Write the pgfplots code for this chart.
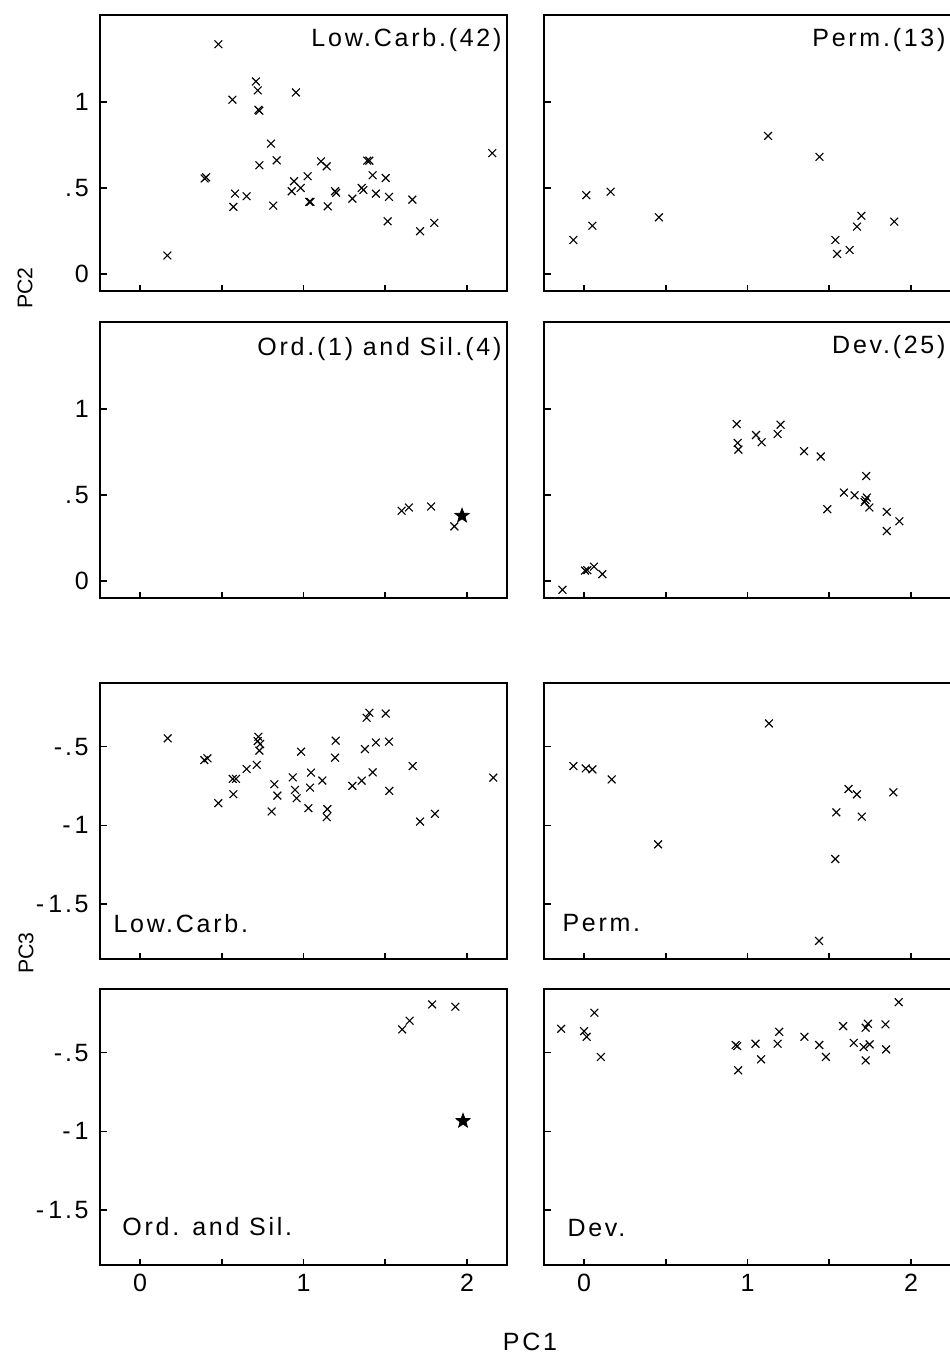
\documentclass[border=0pt]{standalone}
\usepackage{fontspec}
\setmainfont{Liberation Sans}[LetterSpace=11]
\newfontfamily\plainsans{Liberation Sans}
\usepackage{pgfplots}
\pgfplotsset{compat=1.18}

\pgfdeclareplotmark{fstar}{%
 \pgfpathmoveto{\pgfpointpolar{90}{\pgfplotmarksize}}%
 \pgfpathlineto{\pgfpointpolar{126}{0.42\pgfplotmarksize}}%
 \pgfpathlineto{\pgfpointpolar{162}{\pgfplotmarksize}}%
 \pgfpathlineto{\pgfpointpolar{198}{0.42\pgfplotmarksize}}%
 \pgfpathlineto{\pgfpointpolar{234}{\pgfplotmarksize}}%
 \pgfpathlineto{\pgfpointpolar{270}{0.42\pgfplotmarksize}}%
 \pgfpathlineto{\pgfpointpolar{306}{\pgfplotmarksize}}%
 \pgfpathlineto{\pgfpointpolar{342}{0.42\pgfplotmarksize}}%
 \pgfpathlineto{\pgfpointpolar{18}{\pgfplotmarksize}}%
 \pgfpathlineto{\pgfpointpolar{54}{0.42\pgfplotmarksize}}%
 \pgfpathclose
 \pgfusepathqfillstroke}

\pgfplotsset{
  panel/.style={
    scale only axis, width=162.8pt, height=110.4pt,
    anchor=north west,
    xmin=-0.245, xmax=2.245,
    axis line style={line width=0.7pt},
    tick style={black, line width=0.6pt},
    major tick length=2.6pt,
    tick align=inside, tick pos=left,
    xtick={0,0.5,1,1.5,2}, xticklabels={},
    yticklabel style={xshift=-1pt},
  },
  pctwo/.style={ymin=-0.1, ymax=1.507, ytick={0,0.5,1}},
  pcthree/.style={ymin=-1.85, ymax=-0.095, ytick={-1.5,-1,-0.5}},
  leftlab2/.style={yticklabels={0,.5,1}},
  leftlab3/.style={yticklabels={-\,1.5,-\,1,-.5}},
  nolab/.style={yticklabels={}},
  pts/.style={only marks, mark=x, mark size=2.2pt, black, line width=0.45pt},
  stars/.style={only marks, mark=fstar, mark size=3pt, black, line width=0.3pt},
}

\pgfplotstableread{
x y
0.479 1.337
0.709 1.120
0.720 1.068
0.565 1.014
0.954 1.056
0.724 0.955
0.730 0.950
0.801 0.758
0.730 0.632
0.836 0.661
0.404 0.562
0.395 0.555
0.581 0.467
0.652 0.452
0.571 0.390
0.815 0.397
0.167 0.107
0.942 0.539
0.928 0.481
0.983 0.500
1.025 0.568
1.036 0.419
1.043 0.419
1.107 0.655
1.142 0.626
1.148 0.393
1.193 0.481
1.200 0.472
1.299 0.438
1.356 0.500
1.366 0.488
1.390 0.659
1.403 0.659
1.423 0.574
1.443 0.467
1.503 0.558
1.523 0.448
1.515 0.306
1.666 0.432
1.713 0.248
1.800 0.297
2.155 0.703
}\lcpctwo

\pgfplotstableread{
x y
0.169 -0.447
0.393 -0.585
0.412 -0.574
0.479 -0.859
0.567 -0.705
0.587 -0.705
0.571 -0.802
0.652 -0.642
0.714 -0.616
0.724 -0.437
0.720 -0.464
0.734 -0.483
0.730 -0.525
0.805 -0.912
0.822 -0.739
0.840 -0.811
0.934 -0.695
0.948 -0.775
0.958 -0.828
0.985 -0.532
1.030 -0.891
1.040 -0.760
1.046 -0.665
1.115 -0.715
1.146 -0.897
1.142 -0.948
1.197 -0.462
1.193 -0.570
1.299 -0.749
1.356 -0.716
1.376 -0.515
1.386 -0.316
1.403 -0.284
1.423 -0.663
1.443 -0.473
1.503 -0.289
1.523 -0.468
1.525 -0.781
1.668 -0.623
1.713 -0.976
1.804 -0.927
2.161 -0.697
}\lcpcthree

\pgfplotstableread{
x y
-0.065 0.197
0.014 0.458
0.051 0.280
0.163 0.478
0.458 0.329
1.126 0.803
1.440 0.681
1.538 0.197
1.548 0.116
1.625 0.139
1.670 0.275
1.697 0.338
1.898 0.304
}\pmpctwo

\pgfplotstableread{
x y
-0.065 -0.623
0.010 -0.638
0.051 -0.644
0.169 -0.708
0.453 -1.121
1.131 -0.352
1.438 -1.735
1.543 -0.917
1.537 -1.214
1.618 -0.769
1.669 -0.803
1.699 -0.945
1.892 -0.790
}\pmpcthree

\pgfplotstableread{
x y
1.600 0.408
1.645 0.427
1.781 0.433
1.923 0.317
}\ospctwo

\pgfplotstableread{
x y
1.604 -0.352
1.649 -0.297
1.787 -0.193
1.929 -0.208
}\ospcthree

\pgfplotstableread{
x y
1.970 0.379
}\ordpctwo

\pgfplotstableread{
x y
1.976 -0.934
}\ordpcthree

\pgfplotstableread{
x y
-0.132 -0.052
0.006 0.060
0.020 0.062
0.061 0.083
0.112 0.039
0.934 0.913
0.940 0.803
0.944 0.764
1.052 0.849
1.086 0.807
1.184 0.855
1.202 0.909
1.346 0.755
1.448 0.724
1.488 0.417
1.590 0.514
1.655 0.498
1.726 0.610
1.730 0.485
1.716 0.459
1.722 0.470
1.746 0.427
1.852 0.402
1.852 0.290
1.929 0.347
}\dvpctwo

\pgfplotstableread{
x y
-0.140 -0.348
0.000 -0.363
0.016 -0.399
0.063 -0.246
0.103 -0.527
0.927 -0.451
0.937 -0.458
0.943 -0.612
1.049 -0.443
1.083 -0.542
1.184 -0.443
1.194 -0.367
1.348 -0.399
1.439 -0.451
1.480 -0.527
1.585 -0.331
1.650 -0.437
1.711 -0.464
1.723 -0.341
1.737 -0.316
1.747 -0.447
1.723 -0.549
1.844 -0.320
1.848 -0.479
1.925 -0.179
}\dvpcthree

\begin{document}
\begin{tikzpicture}
\path[use as bounding box] (0pt,0pt) rectangle (380pt,-541.2pt);

% Row 1
\begin{axis}[panel, pctwo, leftlab2, at={(40pt,-6pt)}]
\addplot[pts] table {\lcpctwo};
\node[anchor=north east, inner sep=0pt, xshift=-2pt, yshift=-5pt] at (rel axis cs:1,1) {Low.Carb.(42)};
\end{axis}
\begin{axis}[panel, pctwo, nolab, at={(217.6pt,-6pt)}]
\addplot[pts] table {\pmpctwo};
\node[anchor=north east, inner sep=0pt, xshift=-2pt, yshift=-5pt] at (rel axis cs:1,1) {Perm.(13)};
\end{axis}

% Row 2
\begin{axis}[panel, pctwo, leftlab2, at={(40pt,-128.8pt)}]
\addplot[pts] table {\ospctwo};
\addplot[stars] table {\ordpctwo};
\node[anchor=north east, inner sep=0pt, xshift=-2pt, yshift=-6pt] at (rel axis cs:1,1) {Ord.(1) and Sil.(4)};
\end{axis}
\begin{axis}[panel, pctwo, nolab, at={(217.6pt,-128.8pt)}]
\addplot[pts] table {\dvpctwo};
\node[anchor=north east, inner sep=0pt, xshift=-2pt, yshift=-5pt] at (rel axis cs:1,1) {Dev.(25)};
\end{axis}

% Row 3
\begin{axis}[panel, pcthree, leftlab3, at={(40pt,-273.2pt)}]
\addplot[pts] table {\lcpcthree};
\node[anchor=base west, inner sep=0pt, xshift=5.2pt, yshift=10.8pt] at (rel axis cs:0,0) {Low.Carb.};
\end{axis}
\begin{axis}[panel, pcthree, nolab, at={(217.6pt,-273.2pt)}]
\addplot[pts] table {\pmpcthree};
\node[anchor=base west, inner sep=0pt, xshift=7.2pt, yshift=11.2pt] at (rel axis cs:0,0) {Perm.};
\end{axis}

% Row 4
\begin{axis}[panel, pcthree, leftlab3, at={(40pt,-395.6pt)}, xticklabels={0,,1,,2}]
\addplot[pts] table {\ospcthree};
\addplot[stars] table {\ordpcthree};
\node[anchor=base west, inner sep=0pt, xshift=8.8pt, yshift=12pt] at (rel axis cs:0,0) {Ord. and Sil.};
\end{axis}
\begin{axis}[panel, pcthree, nolab, at={(217.6pt,-395.6pt)}, xticklabels={0,,1,,2}]
\addplot[pts] table {\dvpcthree};
\node[anchor=base west, inner sep=0pt, xshift=9.2pt, yshift=11.6pt] at (rel axis cs:0,0) {Dev.};
\end{axis}

% axis titles
\node[rotate=90, font=\plainsans\fontsize{8.5}{10}\selectfont] at (10pt,-115.2pt) {PC2};
\node[rotate=90, font=\plainsans\fontsize{8.5}{10}\selectfont] at (10.4pt,-381.2pt) {PC3};
\node at (212pt,-536.8pt) {PC1};
\end{tikzpicture}
\end{document}
